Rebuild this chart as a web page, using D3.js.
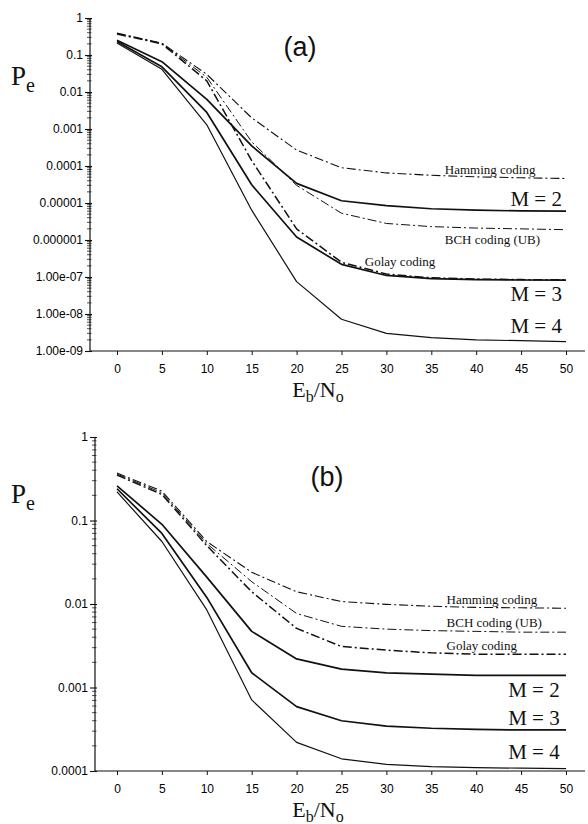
<!DOCTYPE html>
<html>
<head>
<meta charset="utf-8">
<script src="https://cdn.jsdelivr.net/npm/d3@7"></script>
<style>
  body { margin: 0; background: #fff; }
  .tick text { font-family: "Liberation Sans", Arial, sans-serif; font-size: 12px; fill: #000; }
  .serif { font-family: "Liberation Serif", "Times New Roman", serif; fill: #111; }
</style>
</head>
<body>
<div id="wrapper"></div>
<script>
// Eb/No values (dB) shared by both panels
const ebno = [0, 5, 10, 15, 20, 25, 30, 35, 40, 45, 50];

// panel (a)
const aM2 = [0.25, 0.066, 0.0063, 3.5e-4, 3.4e-5, 1.15e-5, 8.5e-6, 7.0e-6, 6.4e-6, 6.1e-6, 6.0e-6];
const aM3 = [0.23, 0.048, 0.0028, 3.1e-5, 1.2e-6, 2.2e-7, 1.1e-7, 9.0e-8, 8.5e-8, 8.3e-8, 8.2e-8];
const aM4 = [0.21, 0.041, 0.0013, 6.4e-6, 7.5e-8, 7.2e-9, 3.0e-9, 2.3e-9, 2.0e-9, 1.9e-9, 1.8e-9];
const aHamming = [0.39, 0.21, 0.03, 0.002, 2.7e-4, 9.0e-5, 6.5e-5, 5.6e-5, 5.1e-5, 4.8e-5, 4.6e-5];
const aBCH = [0.38, 0.205, 0.025, 4.5e-4, 3.0e-5, 5.3e-6, 2.8e-6, 2.3e-6, 2.1e-6, 2.0e-6, 1.9e-6];
const aGolay = [0.37, 0.2, 0.02, 1.4e-4, 2.0e-6, 2.5e-7, 1.2e-7, 9.5e-8, 8.8e-8, 8.5e-8, 8.4e-8];

// panel (b)
const bM2 = [0.26, 0.09, 0.021, 0.0047, 0.0022, 0.00166, 0.0015, 0.00145, 0.0014, 0.0014, 0.0014];
const bM3 = [0.24, 0.07, 0.012, 0.0015, 5.9e-4, 4.0e-4, 3.45e-4, 3.25e-4, 3.15e-4, 3.1e-4, 3.1e-4];
const bM4 = [0.22, 0.056, 0.0085, 7.1e-4, 2.2e-4, 1.4e-4, 1.2e-4, 1.13e-4, 1.1e-4, 1.08e-4, 1.07e-4];
const bHamming = [0.37, 0.225, 0.056, 0.024, 0.014, 0.0107, 0.0099, 0.0094, 0.0091, 0.009, 0.0089];
const bBCH = [0.36, 0.215, 0.053, 0.0185, 0.0077, 0.0054, 0.005, 0.0048, 0.0047, 0.0046, 0.0046];
const bGolay = [0.35, 0.205, 0.05, 0.014, 0.0051, 0.0031, 0.0028, 0.0026, 0.0025, 0.0025, 0.0025];

const xTicks = [0, 5, 10, 15, 20, 25, 30, 35, 40, 45, 50];
const aYTicks = [1, 0.1, 0.01, 0.001, 0.0001, 0.00001, 0.000001, 1e-7, 1e-8, 1e-9];
const aYLabels = ["1", "0.1", "0.01", "0.001", "0.0001", "0.00001", "0.000001", "1.00e-07", "1.00e-08", "1.00e-09"];
const bYTicks = [1, 0.1, 0.01, 0.001, 0.0001];
const bYLabels = ["1", "0.1", "0.01", "0.001", "0.0001"];

// curve labels: [text, x (dB), Pe at baseline, anchor, font size]
const aLabels = [
  ["Hamming coding", 36.5, 6.1e-5, "start", 13],
  ["M = 2", 49.55, 8.3e-6, "end", 21],
  ["BCH coding (UB)", 36.5, 7.8e-7, "start", 13],
  ["Golay coding", 27.6, 2.0e-7, "start", 13],
  ["M = 3", 49.55, 2.2e-8, "end", 21],
  ["M = 4", 49.55, 3.1e-9, "end", 21],
];
const bLabels = [
  ["Hamming coding", 36.7, 0.0100, "start", 13],
  ["BCH coding (UB)", 36.7, 0.0053, "start", 13],
  ["Golay coding", 36.7, 0.0028, "start", 13],
  ["M = 2", 49.3, 7.7e-4, "end", 21],
  ["M = 3", 49.3, 3.6e-4, "end", 21],
  ["M = 4", 49.3, 1.4e-4, "end", 21],
];

const width = 588;
const height = 824;

const svg = d3
  .select("#wrapper")
  .append("svg")
  .attr("width", width)
  .attr("height", height);

const xScale = d3.scaleLinear().domain([0, 50]).range([117, 566]);

const styles = {
  m2: { width: 1.7, dash: null },
  m3: { width: 1.7, dash: null },
  m4: { width: 1.2, dash: null },
  hamming: { width: 1.1, dash: "9,3,2,3" },
  bch: { width: 1.0, dash: "9,3,2,3" },
  golay: { width: 1.5, dash: "9,3,2,3" },
};

const drawPanel = (opts) => {
  const { yTop, yBottom, axisX, domain, ticks, tickLabels, series, labels, title, titleX, titleY, peY } = opts;
  const axisRight = 585;

  const yScale = d3.scaleLog().domain(domain).range([yTop, yBottom]);

  const g = svg.append("g");

  // minor ticks
  const minors = [];
  const eLo = Math.round(Math.log10(domain[1]));
  for (let e = eLo; e < 0; e++) {
    for (let k = 2; k <= 9; k++) minors.push(k * Math.pow(10, e));
  }
  g.append("g")
    .selectAll("line")
    .data(minors)
    .join("line")
    .attr("x1", axisX - 3)
    .attr("x2", axisX + 1.5)
    .attr("y1", (d) => yScale(d))
    .attr("y2", (d) => yScale(d))
    .attr("stroke", "#222")
    .attr("stroke-width", 0.8);

  const yAxisGenerator = d3
    .axisLeft(yScale)
    .tickValues(ticks)
    .tickFormat((d, i) => tickLabels[i])
    .tickSize(5)
    .tickPadding(3);

  const yAxis = g
    .append("g")
    .attr("transform", `translate(${axisX},0)`)
    .call(yAxisGenerator);
  yAxis.select(".domain").remove();
  yAxis.selectAll(".tick line").attr("x2", 2).attr("x1", -5).attr("stroke", "#111").attr("stroke-width", 1.1);
  yAxis.selectAll(".tick text").attr("x", -7);

  g.append("line")
    .attr("x1", axisX)
    .attr("x2", axisX)
    .attr("y1", yTop)
    .attr("y2", yBottom)
    .attr("stroke", "#111")
    .attr("stroke-width", 1.2);

  const xAxisGenerator = d3
    .axisBottom(xScale)
    .tickValues(xTicks)
    .tickFormat(d3.format(""))
    .tickSize(4)
    .tickPadding(9);

  const xAxis = g
    .append("g")
    .attr("transform", `translate(0,${yBottom})`)
    .call(xAxisGenerator);
  xAxis.select(".domain").remove();
  xAxis.selectAll(".tick line").attr("stroke", "#111");

  g.append("line")
    .attr("x1", axisX)
    .attr("x2", axisRight)
    .attr("y1", yBottom)
    .attr("y2", yBottom)
    .attr("stroke", "#111")
    .attr("stroke-width", 1.2);

  const lineGenerator = d3
    .line()
    .x((d) => xScale(d[0]))
    .y((d) => yScale(d[1]));

  g.append("g")
    .selectAll("path")
    .data(series)
    .join("path")
    .attr("d", (s) => lineGenerator(ebno.map((x, i) => [x, s.values[i]])))
    .attr("fill", "none")
    .attr("stroke", "#111")
    .attr("stroke-width", (s) => styles[s.key].width)
    .attr("stroke-dasharray", (s) => styles[s.key].dash)
    .attr("stroke-linejoin", "round");

  g.append("g")
    .selectAll("text")
    .data(labels)
    .join("text")
    .attr("class", "serif")
    .attr("x", (d) => xScale(d[1]))
    .attr("y", (d) => yScale(d[2]))
    .attr("text-anchor", (d) => d[3])
    .style("font-size", (d) => d[4] + "px")
    .text((d) => d[0]);

  g.append("text")
    .attr("x", titleX)
    .attr("y", titleY)
    .attr("text-anchor", "middle")
    .style("font-family", "'Liberation Sans', Arial, sans-serif")
    .style("font-size", "27px")
    .attr("fill", "#111")
    .text(title);

  // P_e axis label
  const pe = g
    .append("text")
    .attr("class", "serif")
    .attr("x", 11)
    .attr("y", peY)
    .style("font-size", "27px");
  pe.append("tspan").text("P");
  pe.append("tspan").attr("dy", 7).style("font-size", "20px").text("e");

  // E_b/N_o label
  const eb = g
    .append("text")
    .attr("class", "serif")
    .attr("x", 318)
    .attr("y", yBottom + 46)
    .attr("text-anchor", "middle")
    .style("font-size", "22px");
  eb.append("tspan").text("E");
  eb.append("tspan").attr("dy", 5).style("font-size", "16px").text("b");
  eb.append("tspan").attr("dy", -5).text("/N");
  eb.append("tspan").attr("dy", 5).style("font-size", "16px").text("o");
};

drawPanel({
  yTop: 18,
  yBottom: 351,
  axisX: 90,
  domain: [1, 1e-9],
  ticks: aYTicks,
  tickLabels: aYLabels,
  series: [
    { key: "m2", values: aM2 },
    { key: "m3", values: aM3 },
    { key: "m4", values: aM4 },
    { key: "hamming", values: aHamming },
    { key: "bch", values: aBCH },
    { key: "golay", values: aGolay },
  ],
  labels: aLabels,
  title: "(a)",
  titleX: 300,
  titleY: 56,
  peY: 85,
});

drawPanel({
  yTop: 437,
  yBottom: 771,
  axisX: 95,
  domain: [1, 1e-4],
  ticks: bYTicks,
  tickLabels: bYLabels,
  series: [
    { key: "m2", values: bM2 },
    { key: "m3", values: bM3 },
    { key: "m4", values: bM4 },
    { key: "hamming", values: bHamming },
    { key: "bch", values: bBCH },
    { key: "golay", values: bGolay },
  ],
  labels: bLabels,
  title: "(b)",
  titleX: 327,
  titleY: 486,
  peY: 503,
});
</script>
</body>
</html>
